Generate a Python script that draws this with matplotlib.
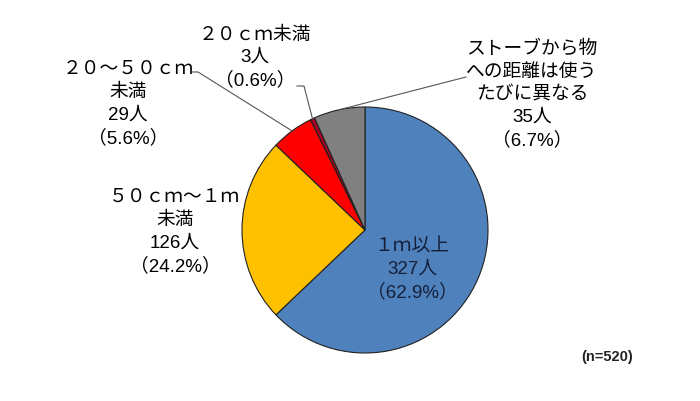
import matplotlib
matplotlib.use('Agg')
import matplotlib.pyplot as plt
import numpy as np

# 英数字は Arial 風, 全角は CJK フォント
plt.rcParams['font.family'] = ['Liberation Sans', 'Noto Sans CJK JP', 'DejaVu Sans']

# データ
categories = ['１ｍ以上', '５０ｃｍ～１ｍ\n未満', '２０～５０ｃｍ\n未満', '２０ｃｍ未満',
              'ストーブから物\nへの距離は使う\nたびに異なる']
counts = [327, 126, 29, 3, 35]
percents = [62.9, 24.2, 5.6, 0.6, 6.7]
n_total = 520
colors = ['#4F81BD', '#FFC000', '#FF0000', '#A50021', '#808080']

W, H = 700, 401
fig = plt.figure(figsize=(7, 4.01), dpi=100)
ax = fig.add_axes([0, 0, 1, 1])

# 円の位置（ピクセル座標, 上から）
cx, cy, r = 365, H - 230, 123
wedges, _ = ax.pie(counts, colors=colors, startangle=90, counterclock=False,
                   center=(cx, cy), radius=r,
                   wedgeprops=dict(edgecolor='#222222', linewidth=0.8))
ax.set_xlim(0, W)
ax.set_ylim(0, H)
ax.set_aspect('equal')
ax.axis('off')

# ラベル位置（ブロック中心, 上からのピクセル）と引出線の起点
label_pos = [(412, 270), (175, 232), (128, 104), (255, 58), (532, 95)]
leader_start = [None, None, [(192, 72), (198, 72)], [(297, 86), (304, 86)],
                [(466, 77)]]

for i, (cat, cnt, pct) in enumerate(zip(categories, counts, percents)):
    text = f'{cat}\n{cnt}人\n（{pct:.1f}%）'
    x, y = label_pos[i]
    color = '#14203a' if i == 0 else 'black'
    ax.text(x, H - y, text, ha='center', va='center', fontsize=13.5,
            linespacing=1.42, color=color)

    if leader_start[i] is not None:
        w = wedges[i]
        mid = np.deg2rad((w.theta1 + w.theta2) / 2)
        ex, ey = cx + r * np.cos(mid), cy + r * np.sin(mid)
        xs = [p[0] for p in leader_start[i]] + [ex]
        ys = [H - p[1] for p in leader_start[i]] + [ey]
        ax.plot(xs, ys, color='#555555', linewidth=0.8, zorder=3)

ax.text(607, H - 357, f'(n={n_total})', ha='center', va='center',
        fontsize=10.5, fontweight='bold', color='#222222')

fig.savefig('out.png', dpi=100)
